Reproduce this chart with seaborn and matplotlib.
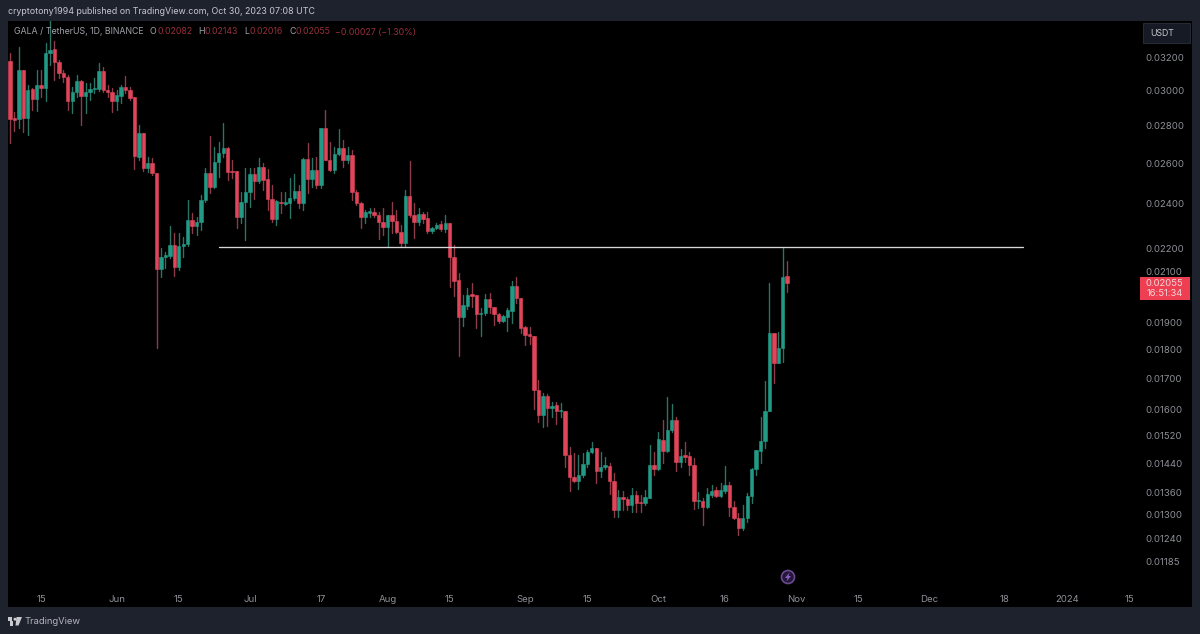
import numpy as np
import pandas as pd
import matplotlib
matplotlib.use('Agg')
import matplotlib.pyplot as plt
from matplotlib.patches import Rectangle, Circle, Polygon
import seaborn as sns

first_day = '2023-05-08'

open_px = [
    .03181, .02843, .02837, .03125, .02843, .03010, .02951, .03034, .03016, .03232,
    .03257, .03175, .03107, .03082, .02940, .02992, .03058, .02969, .02992, .03010,
    .03010, .03119, .03004, .02992, .02940, .02969, .03022, .03004, .02963, .02632,
    .02760, .02576, .02601, .02551, .02111, .02162, .02166, .02214, .02120, .02210,
    .02218, .02325, .02298, .02316, .02419, .02551, .02482, .02607, .02653, .02680,
    .02561, .02561, .02339, .02409, .02457, .02546, .02511, .02581, .02521, .02424,
    .02330, .02409, .02400, .02405, .02429, .02462, .02405, .02622, .02521, .02566,
    .02491, .02787, .02617, .02566, .02648, .02680, .02617, .02643, .02457, .02405,
    .02339, .02358, .02363, .02349, .02316, .02294, .02349, .02321, .02271, .02223,
    .02438, .02349, .02316, .02353, .02335, .02276, .02289, .02307, .02285, .02312,
    .02162, .02066, .01921, .01963, .02010, .02006, .01933, .01936, .01990, .01959,
    .01933, .01906, .01921, .01944, .02042, .01994, .01884, .01858, .01851, .01663,
    .01583, .01643, .01605, .01615, .01596, .01596, .01463, .01402, .01390, .01407,
    .01438, .01472, .01484, .01418, .01429, .01432, .01390, .01313, .01347, .01342,
    .01326, .01352, .01334, .01331, .01344, .01435, .01424, .01507, .01475, .01537,
    .01568, .01443, .01463, .01460, .01435, .01336, .01336, .01321, .01352, .01366,
    .01350, .01363, .01380, .01321, .01293, .01267, .01293, .01350, .01424, .01475,
    .01504, .01596, .01861, .01755, .01807, .02082,
]
high_px = [
    .03232, .02877, .03270, .03125, .03034, .03016, .03125, .03125, .03297, .03449,
    .03309, .03187, .03125, .03095, .03022, .03095, .03064, .03046, .03046, .03076,
    .03168, .03143, .03034, .03016, .03004, .03034, .03089, .03022, .02963, .02804,
    .02760, .02632, .02627, .02551, .02201, .02183, .02298, .02267, .02267, .02249,
    .02419, .02358, .02339, .02443, .02576, .02743, .02685, .02711, .02815, .02685,
    .02617, .02561, .02457, .02576, .02576, .02576, .02627, .02601, .02571, .02491,
    .02419, .02457, .02457, .02526, .02546, .02491, .02627, .02706, .02627, .02632,
    .02787, .02888, .02711, .02685, .02782, .02722, .02685, .02669, .02467, .02409,
    .02372, .02381, .02381, .02363, .02381, .02349, .02409, .02372, .02303, .02467,
    .02612, .02405, .02381, .02363, .02363, .02294, .02312, .02321, .02349, .02312,
    .02214, .02095, .02006, .02034, .02054, .02006, .01955, .02010, .02014, .01959,
    .01936, .01929, .01955, .02062, .02078, .01994, .01887, .01884, .01851, .01696,
    .01653, .01650, .01624, .01624, .01621, .01596, .01487, .01469, .01463, .01469,
    .01478, .01501, .01484, .01472, .01458, .01441, .01413, .01366, .01363, .01347,
    .01371, .01363, .01352, .01366, .01492, .01472, .01531, .01568, .01640, .01618,
    .01577, .01481, .01501, .01472, .01455, .01360, .01344, .01371, .01380, .01374,
    .01385, .01432, .01388, .01336, .01305, .01326, .01358, .01427, .01478, .01577,
    .01693, .02054, .01861, .01865, .02201, .02143,
]
low_px = [
    .02706, .02771, .02787, .02765, .02749, .02888, .02882, .02963, .02940, .03156,
    .03064, .03076, .03052, .02888, .02871, .02963, .02804, .02871, .02946, .02986,
    .02998, .02992, .02963, .02877, .02888, .02928, .02986, .02946, .02571, .02617,
    .02561, .02556, .02541, .01807, .02078, .02115, .02158, .02082, .02107, .02162,
    .02210, .02267, .02258, .02280, .02409, .02453, .02477, .02531, .02632, .02516,
    .02526, .02289, .02312, .02236, .02386, .02424, .02501, .02467, .02372, .02316,
    .02303, .02358, .02395, .02335, .02419, .02381, .02372, .02453, .02482, .02477,
    .02477, .02617, .02561, .02551, .02643, .02581, .02601, .02419, .02395, .02289,
    .02312, .02339, .02339, .02240, .02258, .02205, .02267, .02267, .02205, .02205,
    .02339, .02245, .02303, .02312, .02267, .02267, .02285, .02276, .02271, .02038,
    .02002, .01779, .01887, .01952, .01959, .01880, .01851, .01929, .01936, .01891,
    .01899, .01902, .01869, .01899, .01975, .01861, .01818, .01822, .01602, .01562,
    .01546, .01549, .01577, .01555, .01577, .01429, .01363, .01388, .01369, .01402,
    .01429, .01469, .01385, .01402, .01424, .01355, .01295, .01295, .01313, .01313,
    .01308, .01308, .01308, .01326, .01344, .01407, .01421, .01441, .01472, .01531,
    .01418, .01429, .01443, .01407, .01315, .01318, .01275, .01318, .01347, .01347,
    .01347, .01358, .01298, .01290, .01250, .01262, .01283, .01331, .01407, .01441,
    .01484, .01596, .01686, .01755, .01758, .02016,
]
close_px = [
    .02837, .02832, .03125, .02843, .03004, .02951, .03034, .03016, .03232, .03251,
    .03175, .03107, .03082, .02940, .02992, .03058, .02969, .02992, .03010, .03016,
    .03119, .03004, .02992, .02940, .02975, .03022, .03004, .02957, .02638, .02760,
    .02576, .02601, .02551, .02111, .02162, .02171, .02214, .02120, .02210, .02218,
    .02325, .02298, .02316, .02419, .02551, .02482, .02607, .02653, .02680, .02556,
    .02556, .02339, .02409, .02457, .02546, .02511, .02581, .02516, .02424, .02330,
    .02414, .02405, .02409, .02429, .02462, .02405, .02622, .02521, .02566, .02491,
    .02787, .02617, .02566, .02648, .02680, .02617, .02643, .02457, .02405, .02339,
    .02363, .02367, .02349, .02316, .02294, .02349, .02321, .02271, .02223, .02438,
    .02349, .02316, .02353, .02330, .02276, .02289, .02303, .02285, .02312, .02162,
    .02062, .01921, .01967, .02006, .02002, .01933, .01936, .01990, .01959, .01933,
    .01906, .01925, .01948, .02042, .01994, .01880, .01854, .01851, .01663, .01583,
    .01643, .01605, .01612, .01596, .01599, .01463, .01402, .01390, .01407, .01438,
    .01472, .01484, .01418, .01429, .01435, .01390, .01313, .01347, .01342, .01326,
    .01352, .01331, .01331, .01347, .01435, .01424, .01510, .01475, .01537, .01568,
    .01443, .01460, .01458, .01435, .01336, .01339, .01321, .01355, .01363, .01350,
    .01366, .01380, .01321, .01293, .01267, .01293, .01350, .01424, .01478, .01504,
    .01596, .01861, .01755, .01807, .02078, .02055,
]

level_price = [.02205, .02205]
level_dates = ['2023-06-24', '2023-12-22']

price_ticks = [.032, .03, .028, .026, .024, .022, .021, .019, .018, .017,
               .016, .0152, .0144, .0136, .013, .0124, .01185]
date_ticks = ['2023-05-15', '2023-06-01', '2023-06-15', '2023-07-01', '2023-07-17',
              '2023-08-01', '2023-08-15', '2023-09-01', '2023-09-15', '2023-10-01',
              '2023-10-16', '2023-11-01', '2023-11-15', '2023-12-01', '2023-12-18',
              '2024-01-01', '2024-01-15']
date_labels = ['15', 'Jun', '15', 'Jul', '17', 'Aug', '15', 'Sep', '15', 'Oct',
               '16', 'Nov', '15', 'Dec', '18', '2024', '15']

FRAME = '#1e222d'
UP = '#229a86'
DOWN = '#e0455a'
UP_WICK = '#2a7466'
DOWN_WICK = '#8c3c48'
GREY = '#8f9198'
DIM_RED = '#96303c'

FONT = ['Inter', 'DejaVu Sans']

sns.set_theme(style='dark')
plt.rcParams['font.family'] = FONT

W, H = 1200, 634


def fx(x):
    return x / W


def fy(y):
    return 1 - y / H


def px_text(x, y, s, **kw):
    kw.setdefault('va', 'center')
    kw.setdefault('fontsize', 6.8)
    kw.setdefault('color', GREY)
    fig.text(fx(x), fy(y), s, **kw)


fig = plt.figure(figsize=(12, 6.34), dpi=100, facecolor=FRAME)

# black pane behind the plot and both axes
fig.patches.append(Rectangle((fx(8), fy(607)), fx(1192 - 8), (607 - 21) / H,
                             transform=fig.transFigure, facecolor='black', edgecolor='none',
                             zorder=-1))

ax = fig.add_axes([fx(8), fy(583), fx(1138 - 8), (583 - 21) / H], facecolor='black')
ax.set_yscale('log')

df = pd.DataFrame({
    'date': pd.date_range(first_day, periods=len(open_px), freq='D'),
    'open': open_px, 'high': high_px, 'low': low_px, 'close': close_px,
})
df['day'] = np.arange(len(df))
df['dir'] = np.where(df['close'] >= df['open'], 'up', 'down')

wicks = df.melt(id_vars=['date', 'day', 'dir'], value_vars=['high', 'low'], value_name='price')
sns.lineplot(data=wicks, x='date', y='price', units='day', estimator=None, hue='dir',
             palette={'up': UP_WICK, 'down': DOWN_WICK}, linewidth=1.0, legend=False, ax=ax)

body_colors = np.where(df['dir'] == 'up', UP, DOWN)
ax.bar(df['date'], df['close'] - df['open'], bottom=df['open'], width=0.76,
       color=body_colors, edgecolor=body_colors, linewidth=0.4, zorder=3)

level = pd.DataFrame({'date': pd.to_datetime(level_dates), 'price': level_price})
sns.lineplot(data=level, x='date', y='price', color='#d8d8d8', linewidth=0.95, ax=ax, zorder=4)

ax.set_xlim(pd.Timestamp(first_day) - pd.Timedelta(hours=11),
            pd.Timestamp(first_day) + pd.Timedelta(days=254))
ax.set_ylim(.011367, .03442)
ax.set_xlabel('')
ax.set_ylabel('')
ax.grid(False)
for side in ax.spines:
    ax.spines[side].set_visible(False)

ax.yaxis.tick_right()
ax.set_yticks(price_ticks)
ax.set_yticklabels([f'{p:.5f}' for p in price_ticks])
ax.minorticks_off()
ax.set_xticks(pd.to_datetime(date_ticks))
ax.set_xticklabels(date_labels)
ax.tick_params(axis='y', length=0, pad=5, labelsize=6.9, labelcolor=GREY)
ax.tick_params(axis='x', length=0, pad=9, labelsize=6.9, labelcolor=GREY)

# header
px_text(8, 11.5, 'cryptotony1994 published on TradingView.com, Oct 30, 2023 07:08 UTC',
        color='#c6c8cf', fontsize=6.4)
px_text(14, 32, 'GALA / TetherUS, 1D, BINANCE', fontsize=6.35, color='#a0a2a8')
for x, s in [(150, 'O'), (198, 'H'), (244, 'L'), (289, 'C')]:
    px_text(x, 32, s, fontsize=6.35, color='#a0a2a8')
for x, s in [(157, '0.02082'), (204, '0.02143'), (250, '0.02016'), (296, '0.02055'),
             (335, '\u22120.00027 (\u22121.30%)')]:
    px_text(x, 32, s, fontsize=6.35, color=DIM_RED)

# currency button and last price tag
fig.patches.append(Rectangle((fx(1143), fy(43)), fx(47), 20 / H, transform=fig.transFigure,
                             facecolor='#161a24', edgecolor='#262a35', linewidth=0.8, zorder=5))
px_text(1162, 33, 'USDT', ha='center', color='#c4c6cc', fontsize=6.3, zorder=6)
fig.patches.append(Rectangle((fx(1140), fy(300)), fx(50), 23 / H, transform=fig.transFigure,
                             facecolor='#ee3f52', edgecolor='none', zorder=5))
px_text(1164.5, 283, '0.02055', ha='center', color='#f3d6da', zorder=6)
px_text(1164.5, 294, '16:51:34', ha='center', color='#f3d6da', zorder=6)

# lightning badge on the time axis
badge = Circle((788, H - 577), 6.5, transform=None, facecolor='#23163a',
               edgecolor='#6b4a8f', linewidth=1.2, zorder=5)
fig.patches.append(badge)
fig.patches.append(Polygon([(fx(789.5), fy(572.5)), (fx(785), fy(578)), (fx(787.5), fy(578)),
                            (fx(786.5), fy(581.5)), (fx(791), fy(576)), (fx(788.5), fy(576))],
                           closed=True, transform=fig.transFigure, facecolor='#8a5fc0',
                           edgecolor='none', zorder=6))

# footer logo and name
fig.patches.append(Rectangle((fx(8), fy(621)), fx(4), 4.5 / H, transform=fig.transFigure,
                             facecolor='#c8cad0', edgecolor='none'))
fig.patches.append(Rectangle((fx(10), fy(625.5)), fx(3), 4.5 / H, transform=fig.transFigure,
                             facecolor='#c8cad0', edgecolor='none'))
fig.patches.append(Circle((15, H - 619.2), 1.5, transform=None, facecolor='#c8cad0', edgecolor='none'))
fig.patches.append(Polygon([(fx(16.5), fy(617)), (fx(22), fy(617)), (fx(18.5), fy(625.5)), (fx(15.5), fy(625.5))],
                           closed=True, transform=fig.transFigure, facecolor='#c8cad0', edgecolor='none'))
px_text(25, 621, 'TradingView', color='#b4b6bd', fontsize=6.75)

fig.savefig('out.png', dpi=100, facecolor=fig.get_facecolor())
plt.close(fig)
